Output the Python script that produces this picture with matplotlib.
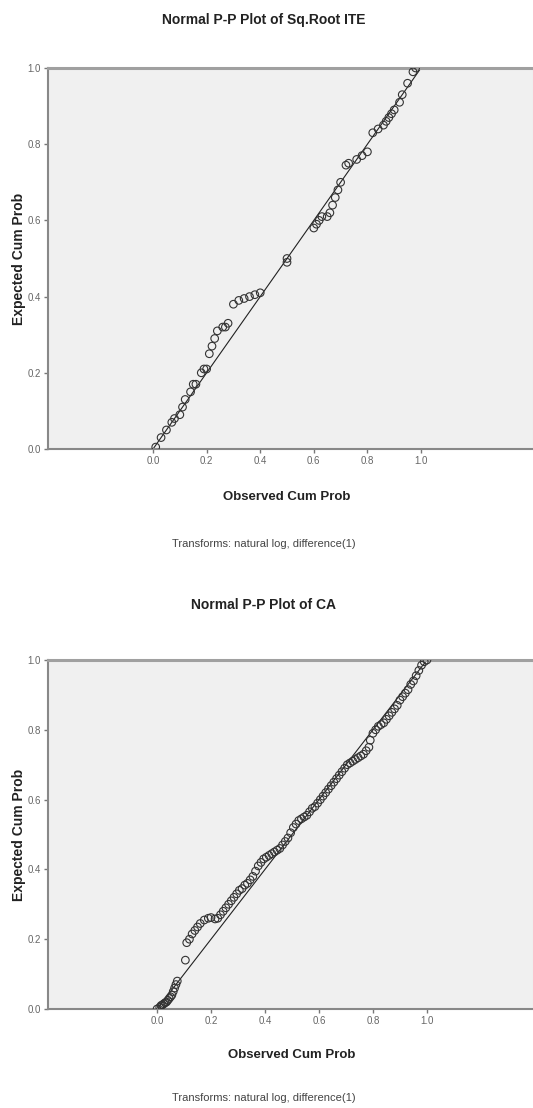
import matplotlib
matplotlib.use("Agg")
import matplotlib.pyplot as plt

# top chart: Sq.Root ITE (observed, expected)
ite_obs = [0.01, 0.03, 0.05, 0.07, 0.08, 0.10, 0.11, 0.12, 0.14, 0.15, 0.16,
           0.18, 0.19, 0.20, 0.21, 0.22, 0.23, 0.24, 0.26, 0.27, 0.28,
           0.30, 0.32, 0.34, 0.36, 0.38, 0.40, 0.50, 0.50,
           0.60, 0.61, 0.62, 0.63, 0.65, 0.66, 0.67, 0.68, 0.69, 0.70,
           0.72, 0.73, 0.76, 0.78, 0.80, 0.82, 0.84, 0.86, 0.87, 0.88,
           0.89, 0.90, 0.92, 0.93, 0.95, 0.97, 0.98]
ite_exp = [0.005, 0.03, 0.05, 0.07, 0.08, 0.09, 0.11, 0.13, 0.15, 0.17, 0.17,
           0.20, 0.21, 0.21, 0.25, 0.27, 0.29, 0.31, 0.32, 0.32, 0.33,
           0.38, 0.39, 0.395, 0.40, 0.405, 0.41, 0.49, 0.50,
           0.58, 0.59, 0.60, 0.61, 0.61, 0.62, 0.64, 0.66, 0.68, 0.70,
           0.745, 0.75, 0.76, 0.77, 0.78, 0.83, 0.84, 0.85, 0.86, 0.87,
           0.88, 0.89, 0.91, 0.93, 0.96, 0.99, 1.00]

# bottom chart: CA (observed, expected)
ca_obs = [0.00, 0.01, 0.015, 0.02, 0.025, 0.03, 0.035, 0.04, 0.045, 0.05,
          0.055, 0.06, 0.065, 0.07, 0.075, 0.105, 0.11, 0.12, 0.13, 0.14,
          0.15, 0.16, 0.175, 0.19, 0.20, 0.215, 0.225, 0.235, 0.245, 0.255,
          0.265, 0.275, 0.285, 0.295, 0.305, 0.315, 0.325, 0.335, 0.345, 0.355,
          0.365, 0.375, 0.385, 0.395, 0.405, 0.415, 0.425, 0.435, 0.445, 0.455,
          0.465, 0.475, 0.485, 0.495, 0.505, 0.515, 0.525, 0.535, 0.545, 0.555,
          0.565, 0.575, 0.585, 0.595, 0.605, 0.615, 0.625, 0.635, 0.645, 0.655,
          0.665, 0.675, 0.685, 0.695, 0.705, 0.715, 0.725, 0.735, 0.745, 0.755,
          0.765, 0.775, 0.785, 0.79, 0.80, 0.81, 0.82, 0.83, 0.84, 0.85,
          0.86, 0.87, 0.88, 0.89, 0.90, 0.91, 0.92, 0.93, 0.94, 0.95,
          0.96, 0.97, 0.98, 0.99, 1.00]
ca_exp = [0.00, 0.005, 0.01, 0.012, 0.015, 0.018, 0.02, 0.025, 0.03, 0.035,
          0.04, 0.05, 0.06, 0.07, 0.08, 0.14, 0.19, 0.20, 0.215, 0.225,
          0.235, 0.245, 0.255, 0.26, 0.262, 0.258, 0.26, 0.27, 0.28, 0.29,
          0.30, 0.31, 0.32, 0.33, 0.34, 0.345, 0.355, 0.36, 0.37, 0.38,
          0.395, 0.41, 0.42, 0.43, 0.435, 0.44, 0.445, 0.45, 0.455, 0.46,
          0.47, 0.48, 0.49, 0.505, 0.52, 0.53, 0.54, 0.545, 0.55, 0.555,
          0.565, 0.575, 0.58, 0.59, 0.60, 0.61, 0.62, 0.63, 0.64, 0.65,
          0.66, 0.67, 0.68, 0.69, 0.70, 0.705, 0.71, 0.715, 0.72, 0.725,
          0.73, 0.74, 0.75, 0.77, 0.79, 0.80, 0.81, 0.815, 0.82, 0.83,
          0.84, 0.85, 0.86, 0.87, 0.885, 0.895, 0.905, 0.915, 0.93, 0.94,
          0.955, 0.97, 0.985, 0.995, 1.00]

ticks = [0.0, 0.2, 0.4, 0.6, 0.8, 1.0]
tick_labels = ["0.0", "0.2", "0.4", "0.6", "0.8", "1.0"]

plt.rcParams["font.family"] = ["Liberation Sans", "DejaVu Sans"]

fig = plt.figure(figsize=(5.33, 11.08), dpi=100)


def pp_panel(rect, xlim, obs, exp, title, title_y, xlab_y, note_y):
    ax = fig.add_axes(rect)
    ax.set_facecolor("#f0f0f0")
    ax.plot([0, 1], [0, 1], color="#222222", lw=0.8, zorder=2)
    ax.scatter(obs, exp, s=30, facecolors="none", edgecolors="#333333",
               linewidths=0.8, zorder=3)
    ax.set_xlim(*xlim)
    ax.set_ylim(0, 1)
    ax.set_xticks(ticks)
    ax.set_xticklabels(tick_labels)
    ax.set_yticks(ticks)
    ax.set_yticklabels(tick_labels)
    ax.tick_params(axis="both", length=3, width=1, color="#777777",
                   labelsize=7, labelcolor="#666666", pad=2)
    ax.spines["left"].set_color("#888888")
    ax.spines["left"].set_linewidth(1.5)
    ax.spines["bottom"].set_color("#888888")
    ax.spines["bottom"].set_linewidth(1.5)
    ax.spines["top"].set_color("#a0a0a0")
    ax.spines["top"].set_linewidth(2.2)
    ax.spines["right"].set_color("#e4e4e4")
    ax.set_ylabel("Expected Cum Prob", fontsize=10, fontweight="bold",
                  color="#222222")
    ax.yaxis.set_label_coords(-0.045, 0.5)
    # center of the 0..1 range in figure coords
    x0 = rect[0] + rect[2] * (0.5 - xlim[0]) / (xlim[1] - xlim[0])
    fig.text(x0, xlab_y, "Observed Cum Prob", ha="center", va="center",
             fontsize=9.5, fontweight="bold", color="#222222")
    fig.text(0.495, title_y, title, ha="center", va="center",
             fontsize=10, fontweight="bold", color="#222222")
    fig.text(0.495, note_y, "Transforms: natural log, difference(1)",
             ha="center", va="center", fontsize=8, color="#444444")
    return ax


pp_panel([48 / 533, 1 - 449 / 1108, 485 / 533, 381 / 1108], (-0.392, 1.418),
         ite_obs, ite_exp, "Normal P-P Plot of Sq.Root ITE",
         1 - 20 / 1108, 1 - 497 / 1108, 1 - 544 / 1108)
pp_panel([48 / 533, 1 - 1009 / 1108, 485 / 533, 349 / 1108], (-0.404, 1.393),
         ca_obs, ca_exp, "Normal P-P Plot of CA",
         1 - 605 / 1108, 1 - 1055 / 1108, 1 - 1098 / 1108)

fig.savefig("out.png", dpi=100, facecolor="white")
